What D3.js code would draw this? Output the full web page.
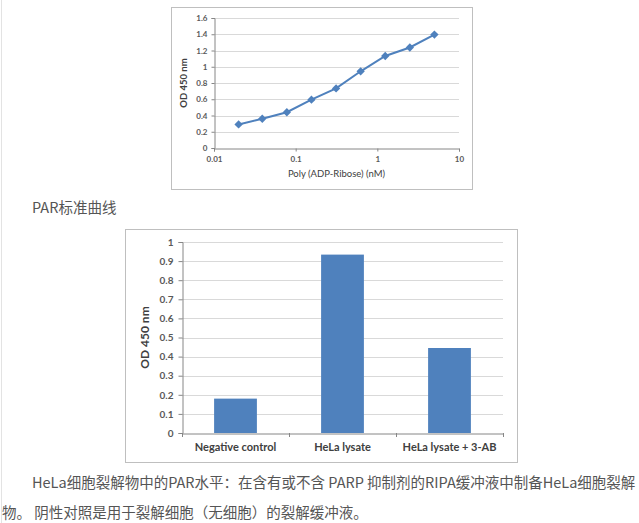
<!DOCTYPE html>
<html>
<head>
<meta charset="utf-8">
<script src="https://cdn.jsdelivr.net/npm/d3@7"></script>
<style>
  body { margin: 0; background: #fff; }
  svg { display: block; }
</style>
</head>
<body>
<div id="page"></div>
<script>
// PAR standard curve (serial 2-fold dilution)
const concNM = [0.02, 0.039, 0.078, 0.156, 0.3125, 0.625, 1.25, 2.5, 5];
const odCurve = [0.29, 0.36, 0.44, 0.595, 0.733, 0.944, 1.132, 1.237, 1.396];
const curveXTicks = [0.01, 0.1, 1, 10];
const curveYTicks = [0, 0.2, 0.4, 0.6, 0.8, 1, 1.2, 1.4, 1.6];

// HeLa lysate PAR levels
const groups = ["Negative control", "HeLa lysate", "HeLa lysate + 3-AB"];
const odBars = [0.18, 0.934, 0.445];
const barYTicks = [0, 0.1, 0.2, 0.3, 0.4, 0.5, 0.6, 0.7, 0.8, 0.9, 1];

const caption1 = "PAR标准曲线";
const captionLines = [
    "HeLa细胞裂解物中的PAR水平：在含有或不含 PARP 抑制剂的RIPA缓冲液中制备HeLa细胞裂解",
    "物。 阴性对照是用于裂解细胞（无细胞）的裂解缓冲液。"
];

const W = 639, H = 523;
const blue = "#4f81bd";
const grid = "#d9d9d9";
const axisCol = "#868686";
const tickCol = "#595959";
const chartFont = "Lato, 'Open Sans', sans-serif";
const cjkFont = "'Noto Sans CJK SC', 'Noto Sans', sans-serif";
const fmt = d => String(+d.toFixed(2));

const svg = d3.select("#page").append("svg")
    .attr("width", W)
    .attr("height", H);

// page left rule
svg.append("line")
    .attr("x1", 1.5).attr("x2", 1.5)
    .attr("y1", 0).attr("y2", H)
    .attr("stroke", "#e3e3e3");

const drawCurve = () => {
    let box = { x: 171, y: 7, w: 301, h: 182 };
    let plot = { left: 214, right: 459, top: 18, bottom: 148 };

    svg.append("rect")
        .attr("x", box.x + 0.5).attr("y", box.y + 0.5)
        .attr("width", box.w).attr("height", box.h)
        .attr("fill", "#fff")
        .attr("stroke", "#bfbfbf");

    let x = d3.scaleLog().domain([0.01, 10]).range([plot.left, plot.right]);
    let y = d3.scaleLinear().domain([0, 1.6]).range([plot.bottom, plot.top]);

    let g = svg.append("g");

    // gridlines
    g.selectAll("line.grid")
        .data(curveYTicks.filter(d => d > 0))
        .enter()
        .append("line")
        .attr("class", "grid")
        .attr("x1", plot.left).attr("x2", plot.right)
        .attr("y1", d => Math.round(y(d)) + 0.5)
        .attr("y2", d => Math.round(y(d)) + 0.5)
        .attr("stroke", grid);

    // y axis
    let yAxis = g.append("g")
        .attr("transform", `translate(${plot.left + 0.5},0)`)
        .call(d3.axisLeft(y).tickValues(curveYTicks).tickFormat(fmt).tickSize(3).tickPadding(4));
    yAxis.select(".domain").attr("stroke", axisCol);
    yAxis.selectAll(".tick line").attr("stroke", axisCol);
    yAxis.selectAll("text")
        .attr("fill", tickCol)
        .attr("font-family", chartFont)
        .attr("font-weight", "bold")
        .attr("font-size", 8);

    // x axis
    let xAxis = g.append("g")
        .attr("transform", `translate(0,${plot.bottom + 0.5})`)
        .call(d3.axisBottom(x).tickValues(curveXTicks).tickFormat(fmt).tickSize(3).tickPadding(5));
    xAxis.select(".domain").attr("stroke", axisCol);
    xAxis.selectAll(".tick line").attr("stroke", axisCol);
    xAxis.selectAll("text")
        .attr("fill", tickCol)
        .attr("font-family", chartFont)
        .attr("font-weight", "bold")
        .attr("font-size", 8);

    // line + markers
    let pts = concNM.map((c, i) => [c, odCurve[i]]);
    g.append("path")
        .datum(pts)
        .attr("fill", "none")
        .attr("stroke", blue)
        .attr("stroke-width", 2)
        .attr("d", d3.line().x(d => x(d[0])).y(d => y(d[1])));

    g.selectAll("path.marker")
        .data(pts)
        .enter()
        .append("path")
        .attr("class", "marker")
        .attr("transform", d => `translate(${x(d[0])},${y(d[1])})`)
        .attr("d", d3.symbol().type(d3.symbolDiamond2).size(44))
        .attr("fill", blue);

    // titles
    g.append("text")
        .attr("x", (plot.left + plot.right) / 2)
        .attr("y", 177)
        .attr("text-anchor", "middle")
        .attr("font-family", chartFont)
        .attr("font-size", 9.5)
        .attr("fill", "#404040")
        .text("Poly (ADP-Ribose) (nM)");

    g.append("text")
        .attr("transform", `translate(187,${(plot.top + plot.bottom) / 2}) rotate(-90)`)
        .attr("text-anchor", "middle")
        .attr("font-family", chartFont)
        .attr("font-weight", "bold")
        .attr("font-size", 9.5)
        .attr("fill", "#404040")
        .text("OD 450 nm");
}

const drawBars = () => {
    let box = { x: 125, y: 229, w: 392, h: 233 };
    let plot = { left: 182, right: 503, top: 242, bottom: 433 };

    svg.append("rect")
        .attr("x", box.x + 0.5).attr("y", box.y + 0.5)
        .attr("width", box.w).attr("height", box.h)
        .attr("fill", "#fff")
        .attr("stroke", "#bfbfbf");

    let x = d3.scaleBand().domain(groups).range([plot.left, plot.right])
        .paddingInner(0.6).paddingOuter(0.3);
    let y = d3.scaleLinear().domain([0, 1]).range([plot.bottom, plot.top]);

    let g = svg.append("g");

    g.selectAll("line.grid")
        .data(barYTicks.filter(d => d > 0))
        .enter()
        .append("line")
        .attr("class", "grid")
        .attr("x1", plot.left).attr("x2", plot.right)
        .attr("y1", d => Math.round(y(d)) + 0.5)
        .attr("y2", d => Math.round(y(d)) + 0.5)
        .attr("stroke", grid);

    // bars
    g.selectAll("rect.bar")
        .data(odBars)
        .enter()
        .append("rect")
        .attr("class", "bar")
        .attr("x", (d, i) => x(groups[i]))
        .attr("width", x.bandwidth())
        .attr("y", d => y(d))
        .attr("height", d => y(0) - y(d))
        .attr("fill", blue);

    // y axis
    let yAxis = g.append("g")
        .attr("transform", `translate(${plot.left + 0.5},0)`)
        .call(d3.axisLeft(y).tickValues(barYTicks).tickFormat(fmt).tickSize(4).tickPadding(5));
    yAxis.select(".domain").attr("stroke", axisCol);
    yAxis.selectAll(".tick line").attr("stroke", axisCol);
    yAxis.selectAll("text")
        .attr("fill", tickCol)
        .attr("font-family", chartFont)
        .attr("font-weight", "bold")
        .attr("font-size", 10);

    // category axis: ticks sit between categories
    let xAxis = g.append("g")
        .attr("transform", `translate(0,${plot.bottom + 0.5})`)
        .call(d3.axisBottom(x).tickSize(0).tickPadding(10));
    xAxis.select(".domain").attr("stroke", axisCol);
    xAxis.selectAll("text")
        .attr("fill", "#404040")
        .attr("font-family", chartFont)
        .attr("font-weight", "bold")
        .attr("font-size", 11);

    let step = x.step();
    g.selectAll("line.catTick")
        .data(d3.range(groups.length + 1))
        .enter()
        .append("line")
        .attr("class", "catTick")
        .attr("x1", i => Math.round(plot.left + i * step) + 0.5)
        .attr("x2", i => Math.round(plot.left + i * step) + 0.5)
        .attr("y1", plot.bottom)
        .attr("y2", plot.bottom + 4)
        .attr("stroke", axisCol);

    g.append("text")
        .attr("transform", `translate(149,${(plot.top + plot.bottom) / 2}) rotate(-90)`)
        .attr("text-anchor", "middle")
        .attr("font-family", chartFont)
        .attr("font-weight", "bold")
        .attr("font-size", 12)
        .attr("fill", "#404040")
        .text("OD 450 nm");
}

const drawCaptions = () => {
    let t = svg.append("g")
        .attr("font-family", cjkFont)
        .attr("font-size", 14.5)
        .attr("fill", "#555");

    t.append("text")
        .attr("x", 32).attr("y", 213)
        .text(caption1);

    t.selectAll("text.para")
        .data(captionLines)
        .enter()
        .append("text")
        .attr("class", "para")
        .attr("x", (d, i) => i === 0 ? 32 : 2)
        .attr("y", (d, i) => 488 + i * 30)
        .text(d => d);
}

drawCurve();
drawBars();
drawCaptions();
</script>
</body>
</html>
